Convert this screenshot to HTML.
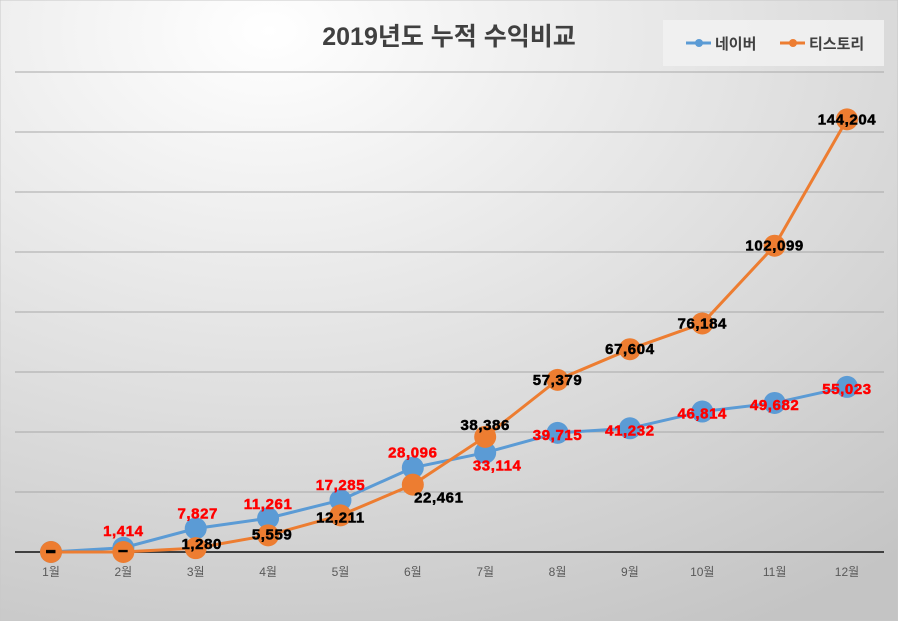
<!DOCTYPE html>
<html><head><meta charset="utf-8"><style>
body{margin:0;width:898px;height:621px;overflow:hidden}
svg{display:block}
text{font-family:"Liberation Sans","Noto Sans CJK KR",sans-serif}
</style></head><body>
<svg id="c" width="898" height="621">
<defs><radialGradient id="bg" cx="0.3" cy="0.05" r="1.1">
<stop offset="0" stop-color="#ffffff"/><stop offset="1" stop-color="#c4c4c4"/></radialGradient></defs>
<rect x="0" y="0" width="898" height="621" fill="url(#bg)" stroke="#c8c8c8"/>
<text x="449" y="45" text-anchor="middle" font-size="25" font-weight="bold" fill="#404040">2019년도 누적 수익비교</text>
<rect x="663" y="20" width="221" height="46" fill="#f2f2f2" opacity="0.8"/>
<g><line x1="686" y1="43" x2="711" y2="43" stroke="#5b9bd5" stroke-width="3"/><circle cx="699" cy="43" r="4" fill="#5b9bd5"/><text x="715" y="49" font-size="15" font-weight="bold" fill="#404040">네이버</text></g>
<g><line x1="780" y1="43" x2="805" y2="43" stroke="#ed7d31" stroke-width="3"/><circle cx="793" cy="43" r="4" fill="#ed7d31"/><text x="809" y="49" font-size="15" font-weight="bold" fill="#404040">티스토리</text></g>
<g id="grid"></g><g id="xl"></g><g id="series"></g><g id="labels"></g>
</svg>
<script>
const categories=["1월","2월","3월","4월","5월","6월","7월","8월","9월","10월","11월","12월"];
const naver=[0,1414,7827,11261,17285,28096,33114,39715,41232,46814,49682,55023];
const tistory=[0,0,1280,5559,12211,22461,38386,57379,67604,76184,102099,144204];
const gridTicks=[20000,40000,60000,80000,100000,120000,140000,160000];
const NS="http://www.w3.org/2000/svg";
const x=i=>51+i*(847-51)/11;
const y=v=>552-v*60/20000;
function mk(t,a,p){const e=document.createElementNS(NS,t);for(const k in a)e.setAttribute(k,a[k]);p.appendChild(e);return e;}
const grid=document.getElementById('grid');
gridTicks.forEach(t=>{const l=mk('line',{x1:15,x2:884,y1:y(t),y2:y(t),stroke:'#a8a8a8','stroke-width':1},grid);

});
const ax=mk('line',{x1:15,x2:884,y1:552,y2:552,stroke:'#404040','stroke-width':2},grid);


const xl=document.getElementById('xl');
categories.forEach((c,i)=>{const t=mk('text',{x:x(i),y:576,'text-anchor':'middle','font-size':12,fill:'#595959'},xl);t.textContent=c;

});
const sg=document.getElementById('series'),lg=document.getElementById('labels');
const fmt=v=>v===0?'–':v.toLocaleString('en-US');
// label offsets (styling only)
const nOff=[[0,0],[0,-17],[2,-15],[0,-14],[0,-15],[0,-15],[12,13],[0,2],[0,2],[0,2],[0,2],[0,2]];
const tOff=[[0,-1],[0,-1],[6,-4],[4,-1],[0,2],[26,13],[0,-12],[0,0],[0,0],[0,0],[0,0],[0,0]];
function draw(data,color,name,txtColor,off){
  const p=mk('polyline',{points:data.map((v,i)=>x(i)+','+y(v)).join(' '),fill:'none',stroke:color,'stroke-width':3},sg);
  
  
  data.forEach((v,i)=>{const c=mk('circle',{cx:x(i),cy:y(v),r:11,fill:color},sg);
    
    });
  return ()=>data.forEach((v,i)=>{const t=mk('text',{x:x(i)+off[i][0],y:y(v)+off[i][1]+5,'text-anchor':'middle','font-size':v===0?18:15,'font-weight':'bold','letter-spacing':0.6,stroke:v===0?'#000':txtColor,'stroke-width':0.5,fill:v===0?'#000':txtColor},lg);
    t.textContent=fmt(v);
    
    });
}
const a=draw(naver,'#5b9bd5','naver','#ff0000',nOff);
const b=draw(tistory,'#ed7d31','tistory','#000000',tOff);
a();b();
</script>
</body></html>
